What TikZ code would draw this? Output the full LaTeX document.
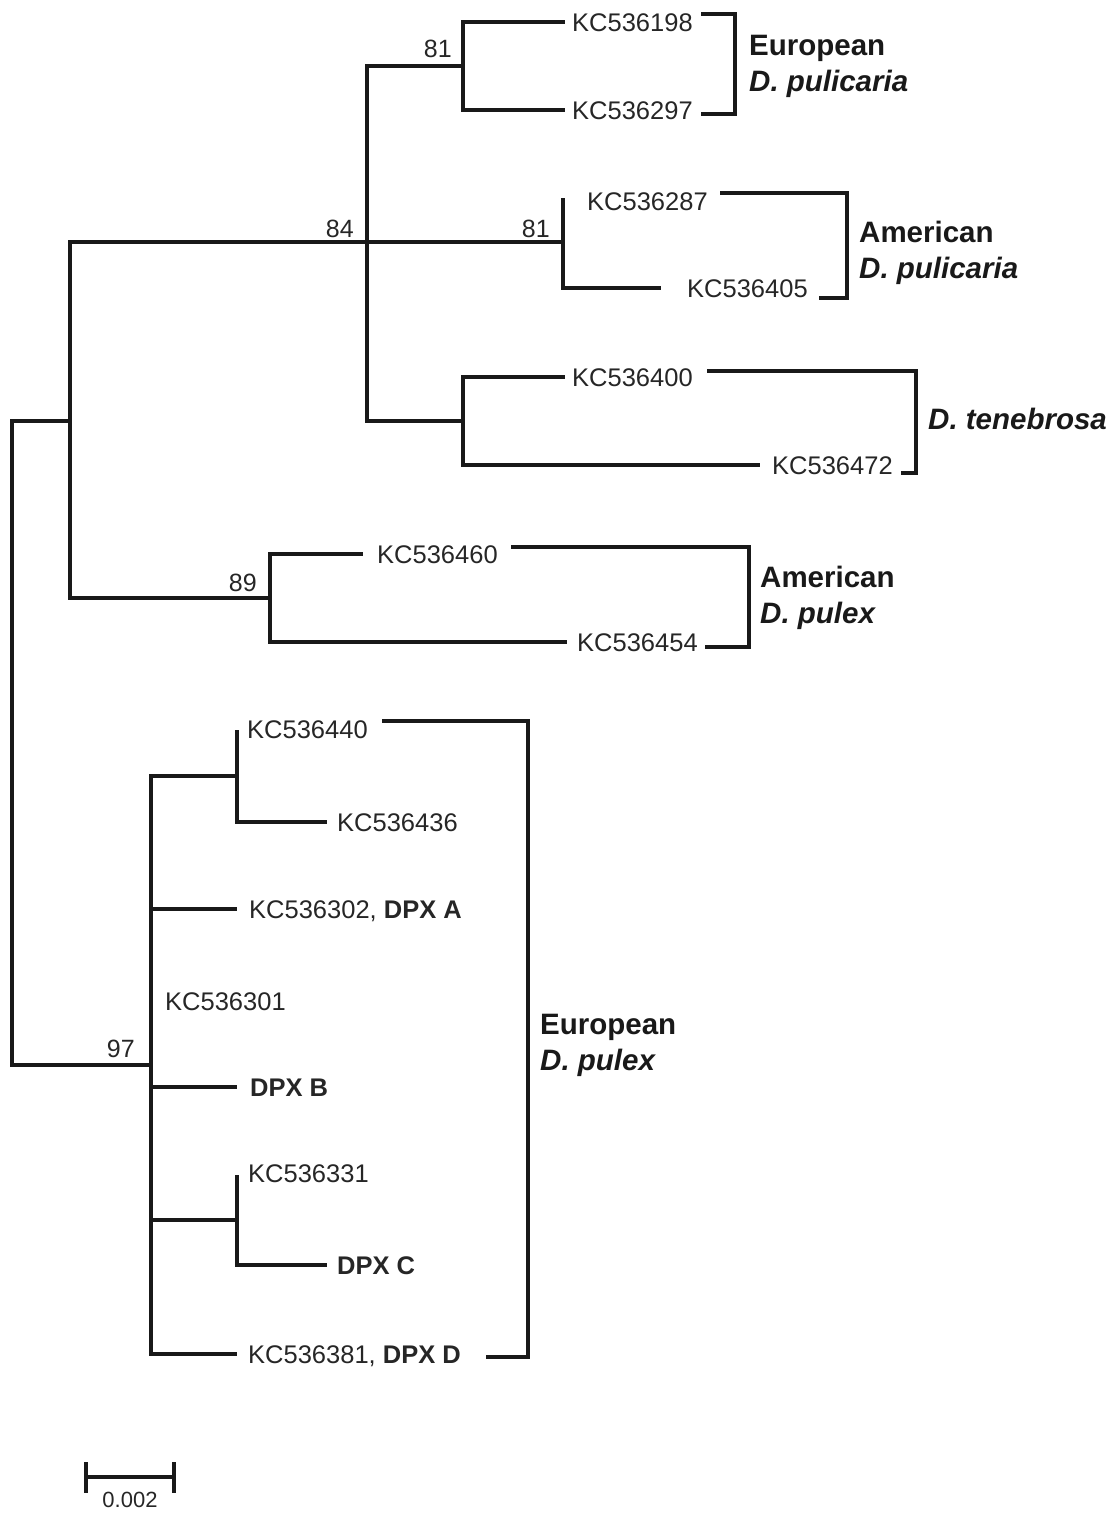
\documentclass[tikz,border=0pt]{standalone}
\usepackage{fontspec}
\setmainfont{Liberation Sans}
\begin{document}
\begin{tikzpicture}[x=1pt,y=-1pt,
  br/.style={line width=3.2pt, draw=black!90, line join=miter},
  leaf/.style={anchor=west, inner sep=0pt, text height=18.3pt, text depth=0pt, font=\fontsize{25.5}{30}\selectfont, text=black!85},
  bsv/.style={anchor=base east, inner sep=0pt, font=\fontsize{25}{30}\selectfont, text=black!85},
  grp/.style={anchor=west, inner sep=0pt, text height=21pt, text depth=0pt, font=\fontsize{29.5}{34}\selectfont\bfseries, text=black!90},
  sbl/.style={anchor=center, inner sep=0pt, text height=16pt, text depth=0pt, font=\fontsize{22}{26}\selectfont, text=black!85}]
\useasboundingbox (0,0) rectangle (1115,1513);

% internal nodes
\coordinate (root) at (12,743);
\coordinate (nA) at (70,421);
\coordinate (nB) at (367,242);
\coordinate (n81a) at (463,66);
\coordinate (n81b) at (563,242);
\coordinate (nTen) at (463,421);
\coordinate (n89) at (270,598);
\coordinate (n97) at (151,1065);
\coordinate (n440) at (237,776);
\coordinate (n331) at (237,1220);
\coordinate (c287) at (563,198);
\coordinate (c440) at (237,730);
\coordinate (c331) at (237,1175);

% leaves
\node[leaf] (l198) at (572,22) {KC536198};
\node[leaf] (l297) at (572,110) {KC536297};
\node[leaf] (l287) at (587,201) {KC536287};
\node[leaf] (l405) at (687,288) {KC536405};
\node[leaf] (l400) at (572,377) {KC536400};
\node[leaf] (l472) at (772,465) {KC536472};
\node[leaf] (l460) at (377,554) {KC536460};
\node[leaf] (l454) at (577,642) {KC536454};
\node[leaf] (l440) at (247,729) {KC536440};
\node[leaf] (l436) at (337,822) {KC536436};
\node[leaf] (l302) at (249,909) {KC536302, \textbf{DPX A}};
\node[leaf] (l301) at (165,1001) {KC536301};
\node[leaf] (lB) at (250,1087) {\textbf{DPX B}};
\node[leaf] (l331) at (248,1173) {KC536331};
\node[leaf] (lC) at (337,1265) {\textbf{DPX C}};
\node[leaf] (l381) at (248,1354) {KC536381, \textbf{DPX D}};

% support values
\node[bsv] (s81a) at (452,57) {81};
\node[bsv] (s84) at (354,237) {84};
\node[bsv] (s81b) at (550,237) {81};
\node[bsv] (s89) at (257,591) {89};
\node[bsv] (s97) at (135,1057) {97};

% tree branches
\draw[br] (root) |- (nA);
\draw[br] (root) |- (n97);
\draw[br] (nA) |- (nB);
\draw[br] (nA) |- (n89);
\draw[br] (nB) |- (n81a);
\draw[br] (nB) -- (n81b);
\draw[br] (nB) |- (nTen);
\draw[br,shorten >=7pt] (n81a) |- (l198.west);
\draw[br,shorten >=7pt] (n81a) |- (l297.west);
\draw[br] (n81b) -- (c287);
\draw[br,shorten >=26pt] (n81b) |- (l405.west);
\draw[br,shorten >=7pt] (nTen) |- (l400.west);
\draw[br,shorten >=12pt] (nTen) |- (l472.west);
\draw[br,shorten >=14pt] (n89) |- (l460.west);
\draw[br,shorten >=10pt] (n89) |- (l454.west);
\draw[br] (n97) |- (n440);
\draw[br] (n440) -- (c440);
\draw[br,shorten >=10pt] (n440) |- (l436.west);
\draw[br,shorten >=12pt] (n97) |- (l302.west);
\draw[br,shorten >=13pt] (n97) |- (lB.west);
\draw[br] (n97) |- (n331);
\draw[br] (n331) -- (c331);
\draw[br,shorten >=10pt] (n331) |- (lC.west);
\draw[br,shorten >=11pt] (n97) |- (l381.west);

% brackets
\coordinate (b1t) at (701,14);  \coordinate (b1m) at (735,64);   \coordinate (b1b) at (701,114);
\coordinate (b2t) at (720,193); \coordinate (b2m) at (847,245);  \coordinate (b2b) at (819,298);
\coordinate (b3t) at (707,371); \coordinate (b3m) at (916,420);  \coordinate (b3b) at (901,473);
\coordinate (b4t) at (511,547); \coordinate (b4m) at (749,597);  \coordinate (b4b) at (705,647);
\coordinate (b5t) at (382,721); \coordinate (b5m) at (528,1040); \coordinate (b5b) at (486,1357);
\draw[br] (b1t) -| (b1m) |- (b1b);
\draw[br] (b2t) -| (b2m) |- (b2b);
\draw[br] (b3t) -| (b3m) |- (b3b);
\draw[br] (b4t) -| (b4m) |- (b4b);
\draw[br] (b5t) -| (b5m) |- (b5b);

% group labels
\node[grp] (g1a) at (749,45) {European};
\node[grp] (g1b) at (749,81) {\itshape D. pulicaria};
\node[grp] (g2a) at (859,232) {American};
\node[grp] (g2b) at (859,268) {\itshape D. pulicaria};
\node[grp] (g3) at (928,419) {\itshape D. tenebrosa};
\node[grp] (g4a) at (760,577) {American};
\node[grp] (g4b) at (760,613) {\itshape D. pulex};
\node[grp] (g5a) at (540,1024) {European};
\node[grp] (g5b) at (540,1060) {\itshape D. pulex};

% scale bar
\coordinate (sb1) at (86,1477); \coordinate (sb2) at (174,1477);
\coordinate (sb1t) at (86,1462); \coordinate (sb1b) at (86,1493);
\coordinate (sb2t) at (174,1462); \coordinate (sb2b) at (174,1493);
\draw[br] (sb1) -- (sb2);
\draw[br] (sb1t) -- (sb1b);
\draw[br] (sb2t) -- (sb2b);
\node[sbl] (sbt) at (130,1499) {0.002};
\end{tikzpicture}
\end{document}
